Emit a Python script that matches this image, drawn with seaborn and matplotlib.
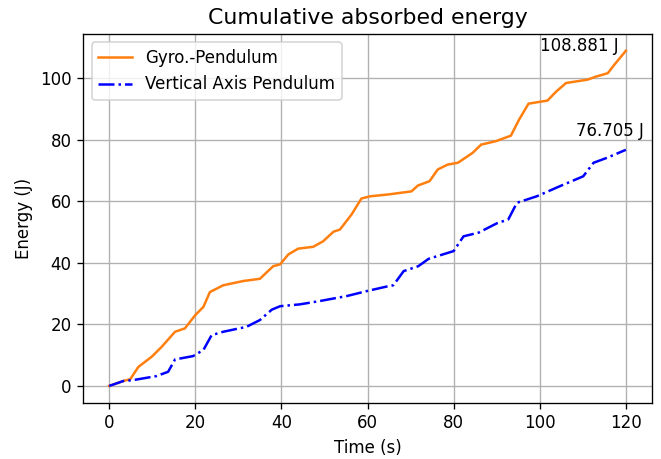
import matplotlib
matplotlib.use("Agg")
import matplotlib.pyplot as plt
import seaborn as sns
import pandas as pd

# Gyro-pendulum cumulative absorbed energy
gyro_time = [0, 3.3, 4.9, 6.8, 9.9, 12.2, 15.3, 17.6, 20, 21.9, 23.4, 26.5, 31.2, 35, 38.1,
             39.7, 41.6, 43.9, 47.4, 49.7, 52.1, 53.6, 56.3, 58.6, 60.6, 64.8,
             70.2, 71.7, 74.4, 76.3, 78.6, 81, 84.4, 86.4, 89.8, 93.3, 95.2, 97.4,
             101.8, 103.8, 106.1, 111.1, 113.1, 115.8, 117.3, 118.9, 120]
gyro_energy = [0, 1.6, 2.2, 6.2, 9.5, 12.7, 17.6, 18.7, 23, 25.7, 30.5, 32.7, 34.1, 34.8, 38.9,
               39.5, 42.7, 44.6, 45.2, 47, 50.1, 50.8, 55.7, 60.9, 61.6, 62.2,
               63.2, 65.1, 66.5, 70.3, 71.9, 72.5, 75.7, 78.4, 79.5, 81.3, 86.5, 91.7,
               92.7, 95.6, 98.4, 99.5, 100.5, 101.6, 104.3, 107, 108.881]

# Vertical axis pendulum cumulative absorbed energy
vert_time = [0, 3.3, 5.6, 11, 13.7, 15.3, 19.5, 21.9, 23.8, 26.5, 31.9, 35, 37.8, 39.7,
             44.3, 49, 55.2, 59.8, 64.8, 66, 68.4, 71.8, 74.2, 80, 82.3, 85.8, 90,
             92.7, 94.7, 99.3, 104.7, 110.1, 112.5, 115.6, 120]
vert_energy = [0, 1.6, 1.9, 3.2, 4.6, 8.6, 9.7, 11.7, 16.5, 17.6, 19.2, 21.4, 24.8, 25.9,
               26.5, 27.6, 29.2, 30.8, 32.4, 32.7, 37.3, 38.9, 41.3, 43.8, 48.6, 49.8, 52.8,
               54.1, 59.5, 61.6, 64.9, 68.1, 72.5, 74.1, 76.705]

series_labels = ["Gyro.-Pendulum", "Vertical Axis Pendulum"]

fig = plt.figure(figsize=(661 / 120, 459 / 120), dpi=120)
ax = fig.add_axes([83.3 / 661, 1 - 402.7 / 459, (651.7 - 83.3) / 661, (402.7 - 34) / 459])

sns.lineplot(x=gyro_time, y=gyro_energy, ax=ax, color="tab:orange", linestyle="-",
             linewidth=1.5, label=series_labels[0])
sns.lineplot(x=vert_time, y=vert_energy, ax=ax, color="blue", linestyle="-.",
             linewidth=1.5, label=series_labels[1])

ax.text(gyro_time[-1] - 20, gyro_energy[-1], f"{gyro_energy[-1]:.3f} J", fontsize=10)
ax.text(vert_time[-1] - 11.6, vert_energy[-1] + 4.5, f"{vert_energy[-1]:.3f} J", fontsize=10)

ax.set_title("Cumulative absorbed energy", fontsize=13.2)
ax.set_xlabel("Time (s)")
ax.set_ylabel("Energy (J)")
ax.set_xticks([0, 20, 40, 60, 80, 100, 120])
ax.set_yticks([0, 20, 40, 60, 80, 100])
ax.grid(True)
ax.legend(loc="upper left")

fig.savefig("out.png", dpi=120)
